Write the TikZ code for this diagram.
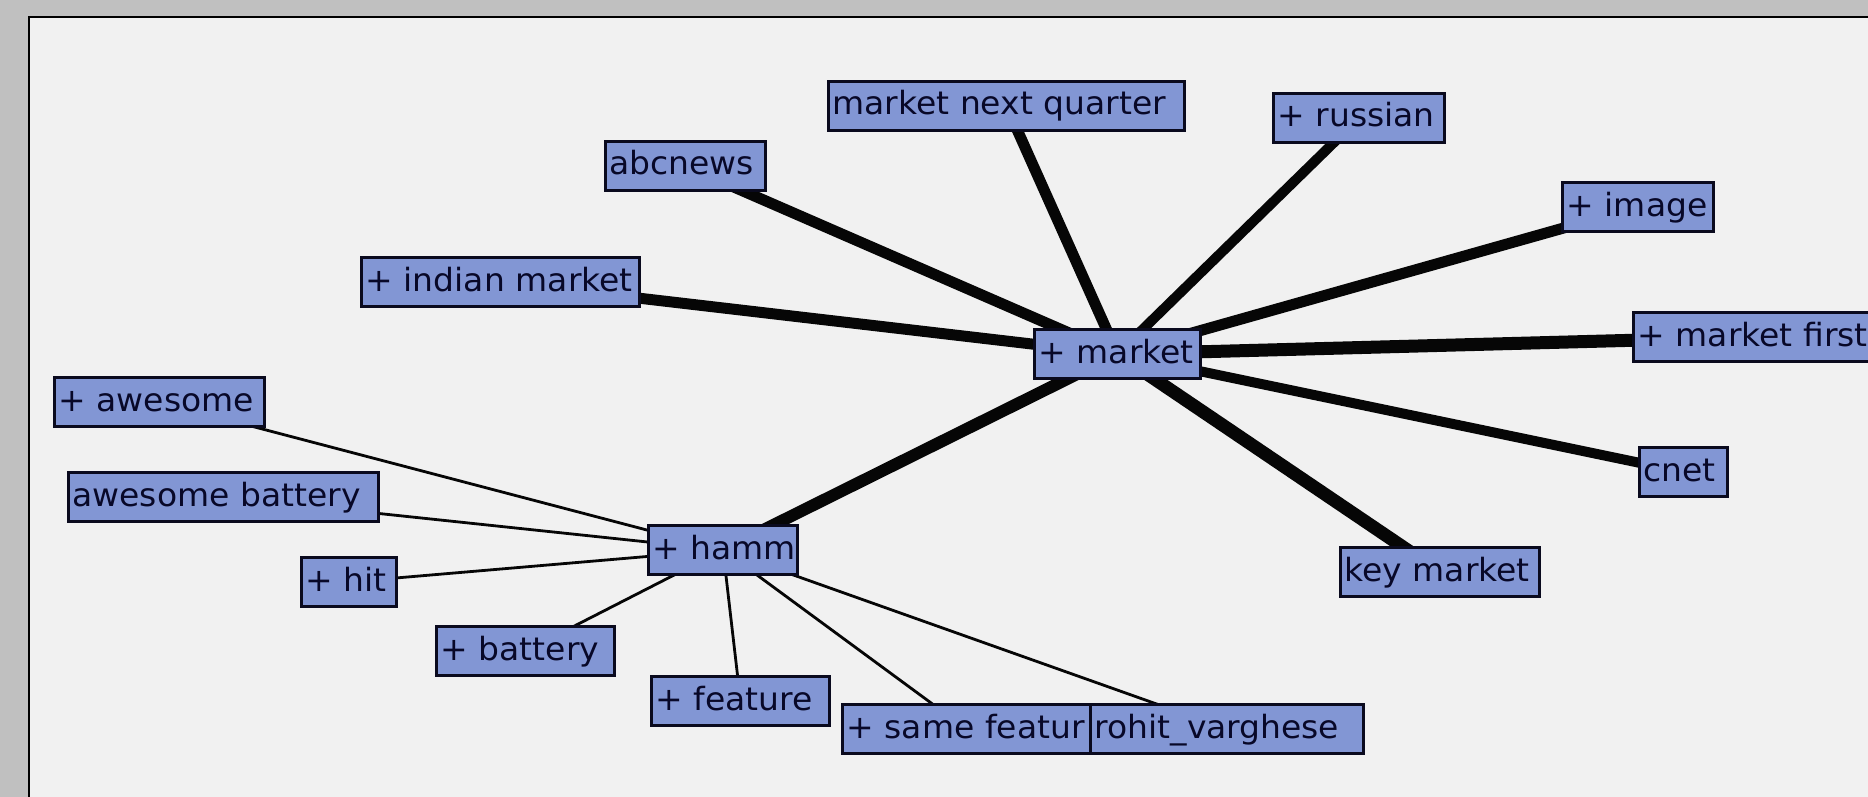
\documentclass[tikz,border=0pt]{standalone}
\usepackage{fontspec}
\newfontfamily\lbl[FakeStretch=1.03]{DejaVu Sans}
\definecolor{frame}{RGB}{192,192,192}
\definecolor{panelbg}{RGB}{241,241,241}
\definecolor{nodefill}{RGB}{130,150,212}
\definecolor{nodeline}{RGB}{10,10,30}
\definecolor{nodetext}{RGB}{8,8,40}
\definecolor{linkcol}{RGB}{6,6,6}
\pgfdeclarelayer{panel}
\pgfdeclarelayer{links}
\pgfsetlayers{panel,links,main}
\tikzset{
  term/.style={draw=nodeline, line width=3pt, fill=nodefill, text=nodetext,
    font=\lbl\fontsize{32}{38}\selectfont, anchor=north west,
    inner xsep=4pt, inner ysep=9.5pt, text height=24pt, text depth=6pt,
    align=left, execute at begin node={\hbox\bgroup}, execute at end node={\egroup}},
  strong/.style={draw=linkcol, line width=#1},
  weak/.style={draw=linkcol, line width=2.8pt},
}
\begin{document}
\begin{tikzpicture}[x=1pt, y=-1pt]
\useasboundingbox (0,0) rectangle (1868,797);
\begin{pgfonlayer}{panel}
  \fill[frame] (0,0) rectangle (1868,797);
  \fill[panelbg] (29,17) rectangle (1868,797);
  \draw[black, line width=2pt] (29,797) -- (29,17) -- (1868,17);
\end{pgfonlayer}

% terms around "+ market"
\node[term, text width=152pt] (abc)    at (604,140)  {abcnews};
\node[term, text width=348pt] (mnq)    at (827,80)   {market next quarter};
\node[term, text width=163pt] (rus)    at (1272,92)  {+ russian};
\node[term, text width=143pt] (img)    at (1561,181) {+ image};
\node[term, text width=237pt] (mfirst) at (1632,311) {+ market first};
\node[term, text width=270pt] (indian) at (360,256)  {+ indian market};
\node[term, text width=158pt] (market) at (1033,328) {+ market};
\node[term, text width=80pt]  (cnet)   at (1638,446) {cnet};
\node[term, text width=191pt] (key)    at (1339,546) {key market};

% terms around "+ hamm"
\node[term, text width=202pt] (awe)    at (53,376)   {+ awesome};
\node[term, text width=302pt] (awbat)  at (67,471)   {awesome battery};
\node[term, text width=87pt]  (hit)    at (300,556)  {+ hit};
\node[term, text width=141pt] (hamm)   at (647,524)  {+ hamm};
\node[term, text width=170pt] (batt)   at (435,625)  {+ battery};
\node[term, text width=170pt] (feat)   at (650,675)  {+ feature};
\node[term, text width=240pt] (same)   at (841,703)  {+ same featur};
\node[term, text width=265pt] (rohit)  at (1089,703) {rohit\_varghese};

\begin{pgfonlayer}{links}
  \draw[strong=11pt] (market.center) -- (abc.center);
  \draw[strong=11pt] (market.center) -- (mnq.center);
  \draw[strong=10pt] (market.center) -- (rus.center);
  \draw[strong=11pt] (market.center) -- (img.center);
  \draw[strong=13pt] (market.center) -- (mfirst.center);
  \draw[strong=11pt] (market.center) -- (indian.center);
  \draw[strong=10pt] (market.center) -- (cnet.center);
  \draw[strong=13pt] (market.center) -- (key.center);
  \draw[strong=12pt] (market.center) -- (hamm.center);
  \draw[weak] (hamm.center) -- (awe.center);
  \draw[weak] (hamm.center) -- (awbat.center);
  \draw[weak] (hamm.center) -- (hit.center);
  \draw[weak] (hamm.center) -- (batt.center);
  \draw[weak] (hamm.center) -- (feat.center);
  \draw[weak] (hamm.center) -- (same.center);
  \draw[weak] (hamm.center) -- (rohit.center);
\end{pgfonlayer}
\end{tikzpicture}
\end{document}
